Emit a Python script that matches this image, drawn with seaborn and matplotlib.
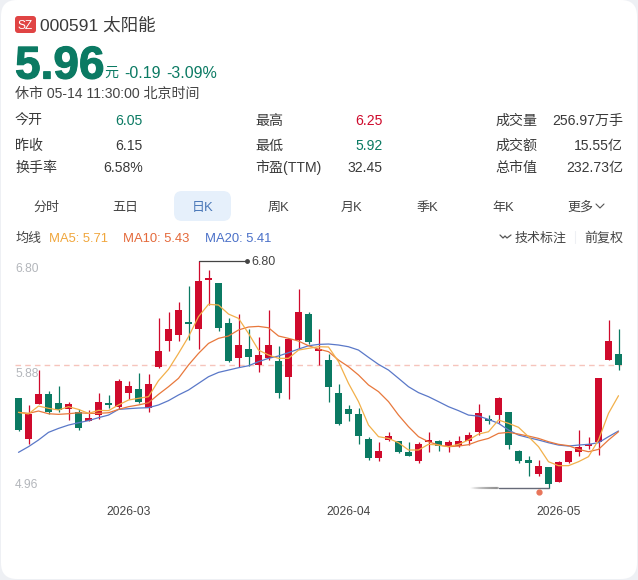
import matplotlib
matplotlib.use('Agg')
import matplotlib.pyplot as plt
import matplotlib.patheffects as pe
from matplotlib.patches import FancyBboxPatch
import numpy as np
import pandas as pd
import seaborn as sns

opens = [5.69, 5.36, 5.64, 5.72, 5.65, 5.60, 5.58, 5.50, 5.55, 5.65, 5.62, 5.73, 5.76, 5.61, 5.94, 6.15,
         6.20, 6.30, 6.25, 6.65, 6.62, 6.30, 6.01, 6.09, 5.96, 6.01, 5.99, 5.86, 6.16, 6.37, 6.07, 6.00,
         5.73, 5.60, 5.56, 5.36, 5.20, 5.35, 5.34, 5.25, 5.18, 5.33, 5.34, 5.30, 5.30, 5.34, 5.41,
         5.51, 5.55, 5.58, 5.26, 5.19, 5.07, 5.13, 5.01, 5.17, 5.25, 5.30, 5.33, 6.00, 6.05]
closes = [5.43, 5.56, 5.72, 5.58, 5.59, 5.64, 5.45, 5.53, 5.66, 5.63, 5.83, 5.79, 5.66, 5.80, 6.07, 6.25,
          6.40, 6.29, 6.64, 6.66, 6.26, 5.99, 6.12, 6.02, 6.04, 6.12, 5.73, 6.17, 6.39, 6.14, 6.09, 5.78,
          5.48, 5.56, 5.38, 5.20, 5.26, 5.38, 5.25, 5.22, 5.32, 5.34, 5.30, 5.33, 5.34, 5.39, 5.57,
          5.50, 5.69, 5.31, 5.18, 5.16, 5.14, 4.99, 5.17, 5.26, 5.29, 5.32, 5.85, 6.15, 5.96]
highs = [5.69, 5.63, 5.92, 5.75, 5.79, 5.66, 5.60, 5.59, 5.73, 5.71, 5.84, 5.83, 5.89, 5.88, 6.34, 6.39,
         6.47, 6.60, 6.80, 6.73, 6.62, 6.34, 6.37, 6.25, 6.18, 6.40, 6.11, 6.17, 6.57, 6.39, 6.25, 6.05,
         5.80, 5.63, 5.61, 5.37, 5.33, 5.41, 5.34, 5.33, 5.33, 5.41, 5.35, 5.35, 5.38, 5.41, 5.64,
         5.55, 5.70, 5.58, 5.27, 5.22, 5.19, 5.13, 5.18, 5.26, 5.43, 5.37, 5.85, 6.32, 6.25]
lows = [5.42, 5.32, 5.64, 5.56, 5.58, 5.51, 5.43, 5.50, 5.52, 5.61, 5.60, 5.68, 5.65, 5.58, 5.93, 6.07,
        6.15, 6.16, 6.09, 6.44, 6.23, 5.98, 5.94, 5.95, 5.90, 6.00, 5.69, 5.68, 6.09, 6.13, 5.96, 5.66,
        5.47, 5.50, 5.32, 5.19, 5.18, 5.34, 5.24, 5.22, 5.16, 5.25, 5.26, 5.25, 5.29, 5.31, 5.39,
        5.48, 5.49, 5.28, 5.16, 5.06, 5.06, 4.96, 5.01, 5.16, 5.22, 5.28, 5.23, 6.00, 5.92]

ma5 = [5.573, 5.560, 5.624, 5.606, 5.592, 5.619, 5.597, 5.565, 5.589, 5.587, 5.633, 5.673, 5.687, 5.700, 5.830, 5.922,
       6.051, 6.186, 6.349, 6.449, 6.443, 6.370, 6.335, 6.213, 6.078, 6.038, 6.011, 6.011, 6.078, 6.092, 6.105, 6.103,
       5.984, 5.808, 5.660, 5.470, 5.376, 5.362, 5.327, 5.268, 5.268, 5.314, 5.308, 5.295, 5.314, 5.349, 5.397,
       5.416, 5.511, 5.484, 5.452, 5.376, 5.295, 5.173, 5.141, 5.141, 5.173, 5.214, 5.349, 5.565, 5.708]
ma10 = [5.573, 5.565, 5.584, 5.562, 5.557, 5.562, 5.570, 5.565, 5.565, 5.570, 5.597, 5.619, 5.633, 5.651, 5.719, 5.781,
        5.849, 5.957, 6.051, 6.132, 6.173, 6.192, 6.241, 6.265, 6.270, 6.259, 6.192, 6.173, 6.151, 6.113, 6.086, 6.065,
        5.997, 5.943, 5.876, 5.795, 5.741, 5.660, 5.551, 5.457, 5.376, 5.335, 5.308, 5.295, 5.300, 5.311, 5.341,
        5.362, 5.403, 5.411, 5.397, 5.381, 5.362, 5.335, 5.314, 5.303, 5.273, 5.254, 5.273, 5.349, 5.416]
ma20 = [5.249, 5.295, 5.349, 5.411, 5.443, 5.470, 5.489, 5.506, 5.530, 5.551, 5.597, 5.603, 5.608, 5.611, 5.633, 5.668,
        5.714, 5.754, 5.808, 5.862, 5.897, 5.916, 5.935, 5.951, 5.984, 6.011, 6.030, 6.057, 6.086, 6.113, 6.124, 6.127,
        6.119, 6.105, 6.078, 6.019, 5.962, 5.916, 5.849, 5.781, 5.733, 5.700, 5.660, 5.619, 5.587, 5.551, 5.543,
        5.516, 5.484, 5.430, 5.389, 5.368, 5.349, 5.327, 5.308, 5.300, 5.308, 5.314, 5.327, 5.376, 5.422]

axis_labels = ['6.80', '5.88', '4.96']
month_labels = ['2026-03', '2026-04', '2026-05']
month_pos = [11, 33, 54]
quote_rows = [
    ('今开', '6.05', '最高', '6.25', '成交量', '256.97万手'),
    ('昨收', '6.15', '最低', '5.92', '成交额', '15.55亿'),
    ('换手率', '6.58%', '市盈(TTM)', '32.45', '总市值', '232.73亿'),
]
tabs = [('分时', 46), ('五日', 125), ('日K', 203), ('周K', 278), ('月K', 352), ('季K', 427), ('年K', 503), ('更多', 580)]

RED = '#cf0a2c'
GREEN = '#0b7a63'
TEXT = '#3a3a3a'
W, H = 638, 580
FONT = ['Liberation Sans', 'Noto Sans CJK SC']

sns.set_theme(style='white')
plt.rcParams['font.family'] = FONT

fig = plt.figure(figsize=(W / 100, H / 100), dpi=100, facecolor='#eef0f4')


def put(x, y, s, px=14, color=TEXT, ha='left', **kw):
    # x and y are picture pixels, y is the middle of the digits counted from the top
    return fig.text(x / W, 1 - (y + px * 0.36) / H, s, fontsize=px * 0.72, color=color, ha=ha, va='baseline', **kw)


# card and header live on a pixel axes behind the chart
bg = fig.add_axes([0, 0, 1, 1], zorder=0)
bg.set_xlim(0, W)
bg.set_ylim(H, 0)
bg.axis('off')
bg.add_patch(FancyBboxPatch((1, 0), W - 2, H - 1, boxstyle='round,pad=0,rounding_size=16', fc='white', ec='none'))
bg.add_patch(FancyBboxPatch((15, 16), 21, 17, boxstyle='round,pad=0,rounding_size=3', fc='#e04444', ec='none'))
bg.add_patch(FancyBboxPatch((174, 191), 57, 30, boxstyle='round,pad=0,rounding_size=8', fc='#e6f0fb', ec='none'))

put(25.5, 24.5, 'SZ', 12, 'white', ha='center')
put(40, 24, '000591 太阳能', 17.5)
big = put(15, 62, '5.96', 46, GREEN, fontweight='bold')
big.set_path_effects([pe.withStroke(linewidth=0.8, foreground=GREEN)])
put(104, 72, '元', 14, GREEN)
put(124, 72, '-0.19', 16, GREEN)
put(166, 72, '-3.09%', 16, GREEN)
put(15, 93, '休市 05-14 11:30:00 北京时间', 14, '#444444')

row_colors = [(GREEN, RED, TEXT), (TEXT, GREEN, TEXT), (TEXT, TEXT, TEXT)]
for y, row, cols in zip([120, 145, 167], quote_rows, row_colors):
    put(15, y, row[0])
    put(143, y, row[1], color=cols[0], ha='right')
    put(255, y, row[2])
    put(383, y, row[3], color=cols[1], ha='right')
    put(495, y, row[4])
    put(623, y, row[5], color=cols[2], ha='right')

for name, x in tabs:
    put(x, 206, name, 13, '#4a78b8' if name == '日K' else '#444444', ha='center')
bg.plot([596, 600, 604], [204, 208, 204], color='#555555', lw=0.8)

put(15, 237, '均线', 13, '#444444')
put(49, 237, 'MA5: 5.71', 13, '#f0a63c')
put(123, 237, 'MA10: 5.43', 13, '#e4693a')
put(205, 237, 'MA20: 5.41', 13, '#4a70c8')
put(515, 237, '技术标注', 13, '#444444')
put(623, 237, '前复权', 13, '#444444', ha='right')
bg.plot([500, 503, 505, 507, 511], [235, 238, 236, 238, 235], color='#555555', lw=0.9)
bg.plot([575, 575], [231, 243], color='#eef0f4', lw=0.8)

# chart axes: one candle every 10 px starting at x=18.5, price scale from the 6.80 and 4.96 marks
ax_left, ax_right, ax_top, ax_bottom = 15, 622, 255, 497
ax = fig.add_axes([ax_left / W, 1 - ax_bottom / H, (ax_right - ax_left) / W, (ax_bottom - ax_top) / H], zorder=1)
ax.patch.set_alpha(0)
ax.set_xlim((ax_left - 18.5) / 10, (ax_right - 18.5) / 10)
ax.set_ylim(6.80 - (ax_bottom - 261) * 0.008106, 6.80 - (ax_top - 261) * 0.008106)

df = pd.DataFrame({'i': np.arange(len(opens)), 'open': opens, 'close': closes, 'high': highs, 'low': lows,
                   'MA5': ma5, 'MA10': ma10, 'MA20': ma20})
df['color'] = np.where(df['close'] >= df['open'], RED, GREEN)

ax.axhline(closes[-1], color='#f6c4bc', lw=1, ls=(0, (4, 3)), zorder=1)
ax.vlines(df['i'], df['low'], df['high'], colors=df['color'], lw=0.9, zorder=2)
ax.bar(df['i'], (df['close'] - df['open']).abs().clip(lower=0.016), bottom=df[['open', 'close']].min(axis=1),
       width=0.68, color=df['color'], lw=0, zorder=2)

for col, c in [('MA20', '#5a78c8'), ('MA10', '#e8783c'), ('MA5', '#f2b04a')]:
    sns.lineplot(data=df, x='i', y=col, color=c, lw=0.9, ax=ax, zorder=3, legend=False)
ax.axis('off')

# high and low tags
hi = int(np.argmax(highs))
lo = int(np.argmin(lows))
ax.plot([hi, hi + 4.85], [highs[hi], highs[hi]], color='#444444', lw=0.9, zorder=4)
ax.plot([hi + 4.85], [highs[hi]], 'o', ms=2.5, color='#444444', zorder=4)
ax.plot([lo - 5, lo], [lows[lo], lows[lo]], color='#666a78', lw=1, zorder=4)
ax.plot([lo - 1], [lows[lo] - 0.035], 'o', ms=3.5, color='#e8755a', zorder=4)
for k, a in enumerate(np.linspace(1, 0, 28)):
    bg.plot([498 - k, 497 - k], [487.7, 487.7], color='#888888', alpha=float(a) * 0.6, lw=1.6)
put(251, 261, '6.80', 12.5, '#444444')

for lab, y in zip(axis_labels, [268, 373, 484]):
    put(15, y, lab, 12, '#b3b6bb')
for lab, i in zip(month_labels, month_pos):
    put(18.5 + 10 * i, 511, lab, 12, '#444444', ha='center')

fig.savefig('out.png', dpi=100, facecolor=fig.get_facecolor())
